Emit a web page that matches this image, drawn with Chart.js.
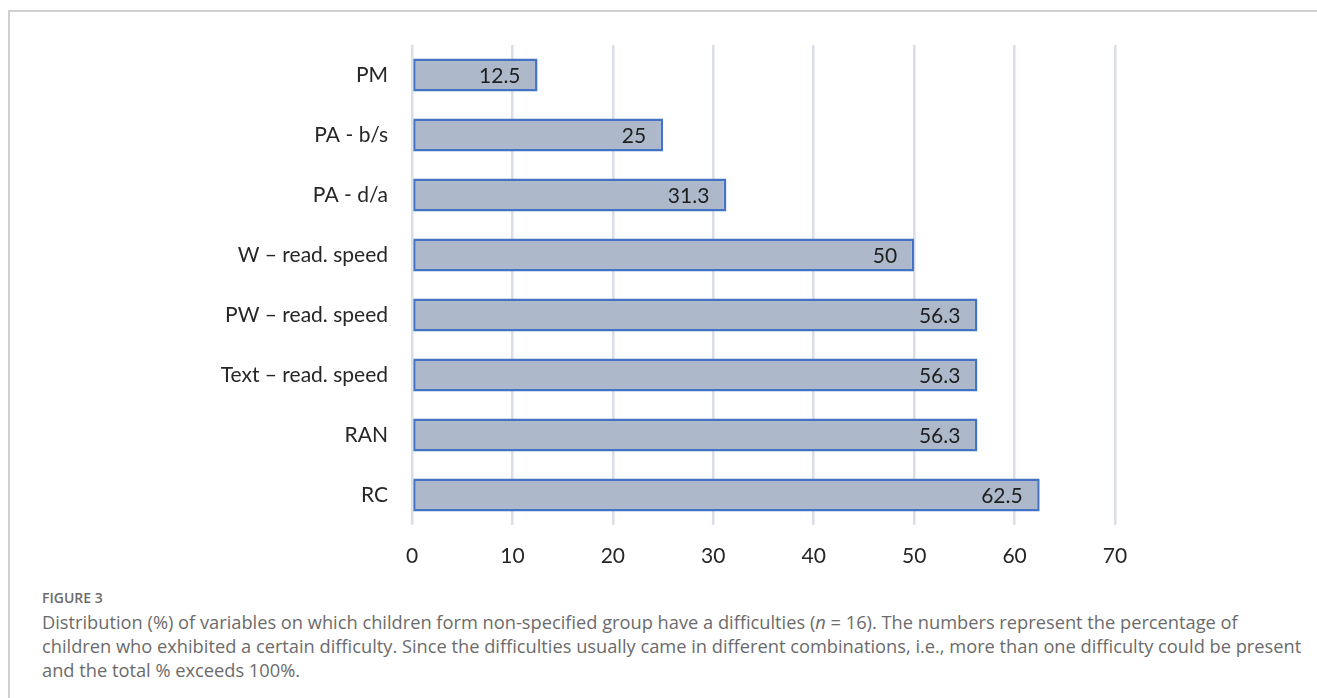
<!DOCTYPE html>
<html lang="en">
<head>
    <meta charset="UTF-8">
    <title>Figure 3</title>
    <script src="https://cdn.jsdelivr.net/npm/chart.js"></script>
    <style>
        html, body {
            margin: 0;
            padding: 0;
            background: #fff;
        }

        body {
            width: 1317px;
            height: 698px;
            position: relative;
            overflow: hidden;
        }

        .frame {
            position: absolute;
            left: 8px;
            top: 10px;
            width: 1320px;
            height: 700px;
            border-top: 2px solid #d0d0d0;
            border-left: 2px solid #d0d0d0;
        }

        .chartBox {
            position: absolute;
            left: 0;
            top: 0;
            width: 1317px;
            height: 580px;
        }

        .figLabel {
            position: absolute;
            left: 42px;
            top: 588px;
            font-family: "Open Sans", sans-serif;
            font-size: 14px;
            font-weight: 600;
            color: #6b6b6b;
        }

        .caption {
            position: absolute;
            left: 42px;
            top: 610px;
            font-family: "Open Sans", sans-serif;
            font-size: 18.25px;
            line-height: 24px;
            color: #6b6b6b;
            white-space: nowrap;
        }
    </style>
</head>
<body>

<div class="frame"></div>

<div class="chartBox">
    <canvas id="diffChart" width="1317" height="580"></canvas>
</div>

<div class="figLabel">FIGURE 3</div>
<div class="caption">
    Distribution (%) of variables on which children form non-specified group have a difficulties (<i>n</i> = 16). The numbers represent the percentage of<br>
    children who exhibited a certain difficulty. Since the difficulties usually came in different combinations, i.e., more than one difficulty could be present<br>
    and the total % exceeds 100%.
</div>

<script>
    const variables = ['PM', 'PA - b/s', 'PA - d/a', 'W \u2013 read. speed', 'PW \u2013 read. speed',
                       'Text \u2013 read. speed', 'RAN', 'RC'];
    const percentages = [12.5, 25, 31.3, 50, 56.3, 56.3, 56.3, 62.5];
    const axisTicks = [0, 10, 20, 30, 40, 50, 60, 70];

    const chartFont = 'Lato, "Liberation Sans", sans-serif';

    // write each value inside the end of its bar
    const valueLabels = {
        id: 'valueLabels',
        afterDatasetsDraw(chart) {
            const c = chart.ctx;
            const meta = chart.getDatasetMeta(0);
            c.save();
            c.font = '21px ' + chartFont;
            c.fillStyle = '#1e1e1e';
            c.textAlign = 'right';
            c.textBaseline = 'middle';
            meta.data.forEach(function(bar, i) {
                c.fillText(String(percentages[i]), bar.x - 17, bar.y + 1);
            });
            c.restore();
        }
    };

    const ctx = document.getElementById('diffChart').getContext('2d');
    new Chart(ctx, {
        type: 'bar',
        data: {
            labels: variables,
            datasets: [{
                data: percentages,
                backgroundColor: '#adb9ca',
                borderColor: '#4472c4',
                borderWidth: 2.5,
                borderSkipped: false,
                categoryPercentage: 1,
                barPercentage: 0.55
            }]
        },
        options: {
            indexAxis: 'y',
            responsive: false,
            animation: false,
            layout: {
                padding: { top: 45, right: 202, bottom: 0, left: 0 }
            },
            plugins: {
                legend: { display: false },
                tooltip: { enabled: false }
            },
            scales: {
                x: {
                    min: 0,
                    max: 70,
                    afterBuildTicks: function(scale) {
                        scale.ticks = axisTicks.map(function(v) { return { value: v }; });
                    },
                    afterFit: function(scale) {
                        scale.height = 55;
                    },
                    grid: {
                        color: '#d9dee8',
                        lineWidth: 2.5,
                        drawTicks: false
                    },
                    border: { display: false },
                    ticks: {
                        padding: 19,
                        color: '#262626',
                        font: { family: chartFont, size: 21 }
                    }
                },
                y: {
                    afterFit: function(scale) {
                        scale.width = 412;
                    },
                    grid: { display: false, drawTicks: false },
                    border: { display: false },
                    ticks: {
                        padding: 24,
                        color: '#262626',
                        font: { family: chartFont, size: 21 }
                    }
                }
            }
        },
        plugins: [valueLabels]
    });
</script>

</body>
</html>
